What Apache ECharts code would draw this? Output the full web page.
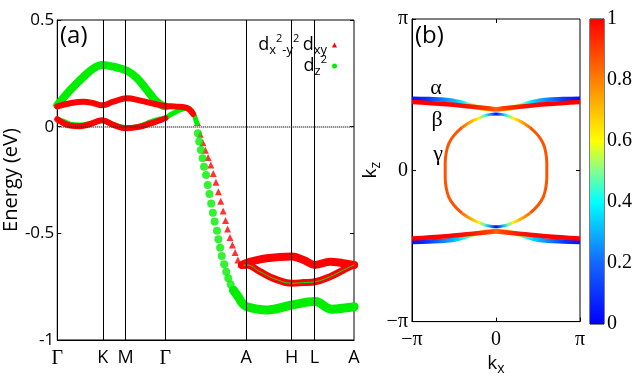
<!DOCTYPE html>
<html>
<head>
<meta charset="utf-8">
<script src="https://cdn.jsdelivr.net/npm/echarts@6/dist/echarts.min.js"></script>
<style>
  html, body { margin: 0; padding: 0; background: #fff; }
  #chart { width: 644px; height: 381px; }
</style>
</head>
<body>
<div id="chart"></div>
<script>
// ---- panel (a): bands along the high-symmetry path ----
const kPoints = [0, 1.333, 2.0, 3.155, 5.521, 6.854, 7.521, 8.676];
const kLabels = ['Γ', 'K', 'M', 'Γ', 'A', 'H', 'L', 'A'];

// green upper band (Γ-K-M-Γ)
const g1K = [0, 0.38, 0.77, 1.06, 1.31, 1.65, 2.04, 2.33, 2.62, 2.86, 3.06, 3.16];
const g1E = [0.10, 0.172, 0.234, 0.273, 0.289, 0.281, 0.262, 0.227, 0.172, 0.125, 0.10, 0.095];
// green lower band + hump before Γ-A drop
const g2K = [0, 0.18, 0.38, 0.67, 0.96, 1.31, 1.64, 2.04, 2.33, 2.57, 2.72, 3.01, 3.16, 3.30, 3.59, 3.79, 3.97, 4.08];
const g2E = [0.035, 0.025, 0.012, 0.008, 0.015, 0.028, 0.01, -0.005, 0.0, 0.012, 0.022, 0.036, 0.04, 0.055, 0.078, 0.086, 0.064, 0.016];
// green dots dropping along Γ-A
const gdK = [4.11, 4.15, 4.20, 4.25, 4.29, 4.35, 4.40, 4.45, 4.50, 4.55, 4.60, 4.67, 4.71, 4.76, 4.81, 4.88, 4.94, 5.00, 5.07, 5.15];
const gdE = [-0.031, -0.07, -0.109, -0.148, -0.188, -0.227, -0.273, -0.316, -0.36, -0.403, -0.445, -0.488, -0.528, -0.567, -0.606, -0.645, -0.68, -0.711, -0.74, -0.766];
// green bottom band (A-H-L-A)
const g3K = [5.15, 5.30, 5.40, 5.54, 6.13, 6.86, 7.54, 8.03, 8.40, 8.68];
const g3E = [-0.766, -0.80, -0.825, -0.844, -0.859, -0.836, -0.82, -0.856, -0.85, -0.844];

// red upper band (Γ-K-M-Γ and on to the drop)
const r1K = [0, 0.38, 0.77, 1.06, 1.31, 1.64, 2.04, 2.43, 2.86, 3.16, 3.50, 3.79, 3.97];
const r1E = [0.095, 0.11, 0.117, 0.11, 0.10, 0.117, 0.133, 0.122, 0.106, 0.097, 0.094, 0.088, 0.06];
// red lower band (Γ-K-M-Γ)
const r2K = [0, 0.38, 0.67, 0.96, 1.31, 1.64, 2.0, 2.43, 2.72, 3.01, 3.16];
const r2E = [0.035, 0.005, 0.002, 0.012, 0.03, 0.008, -0.008, 0.0, 0.015, 0.03, 0.04];
// red triangles dropping along Γ-A
const rtK = [4.10, 4.18, 4.26, 4.33, 4.41, 4.49, 4.56, 4.64, 4.71, 4.78, 4.85, 4.92, 4.98, 5.05, 5.12, 5.20, 5.28, 5.37, 5.45];
const rtE = [0.02, -0.035, -0.075, -0.11, -0.145, -0.18, -0.22, -0.26, -0.305, -0.35, -0.395, -0.44, -0.48, -0.52, -0.555, -0.59, -0.625, -0.645, -0.65];
// red bands A-H-L-A
const r3K = [5.40, 5.54, 6.13, 6.86, 7.20, 7.54, 7.98, 8.36, 8.68];
const r3E = [-0.648, -0.638, -0.617, -0.609, -0.625, -0.648, -0.633, -0.64, -0.648];
const r4K = [5.45, 5.54, 5.93, 6.32, 6.86, 7.20, 7.54, 7.98, 8.36, 8.68];
const r4E = [-0.65, -0.648, -0.68, -0.711, -0.734, -0.731, -0.727, -0.703, -0.672, -0.648];

// ---- panel (b): Fermi surface in kx-kz plane, weight 0..1 ----
const alphaKx = [-3.14, -2.5, -1.84, -1.4, -1.10, -0.75, -0.47, 0, 0.47, 0.75, 1.10, 1.4, 1.84, 2.5, 3.14];
const alphaKzTop = [1.487, 1.478, 1.459, 1.42, 1.37, 1.32, 1.281, 1.267, 1.281, 1.32, 1.37, 1.42, 1.459, 1.478, 1.487];
const alphaKzBot = [-1.487, -1.478, -1.459, -1.42, -1.37, -1.32, -1.281, -1.267, -1.281, -1.32, -1.37, -1.42, -1.459, -1.478, -1.487];
const alphaW = [0.02, 0.1, 0.25, 0.33, 0.42, 0.58, 0.68, 0.82, 0.68, 0.58, 0.42, 0.33, 0.25, 0.1, 0.02];

const betaKx = [-3.14, -1.84, -0.97, -0.22, 0, 0.22, 0.97, 1.84, 3.14];
const betaKzTop = [1.417, 1.37, 1.323, 1.281, 1.267, 1.281, 1.323, 1.37, 1.417];
const betaKzBot = [-1.417, -1.37, -1.323, -1.281, -1.267, -1.281, -1.323, -1.37, -1.417];
const betaW = [1, 1, 0.97, 0.9, 0.85, 0.9, 0.97, 1, 1];

// γ pocket: caps (near kx = 0) and sides
const capKx = [-1.27, -0.90, -0.60, -0.40, -0.15, 0, 0.15, 0.40, 0.60, 0.90, 1.27];
const capKzTop = [0.89, 1.02, 1.09, 1.14, 1.165, 1.17, 1.165, 1.14, 1.09, 1.02, 0.89];
const capKzBot = [-0.89, -1.02, -1.09, -1.14, -1.165, -1.17, -1.165, -1.14, -1.09, -1.02, -0.89];
const capW = [0.86, 0.74, 0.62, 0.46, 0.22, 0.0, 0.22, 0.46, 0.62, 0.74, 0.86];
const sideKx = [1.27, 1.58, 1.77, 1.86, 1.90, 1.90, 1.86, 1.77, 1.58, 1.27];
const sideKz = [0.89, 0.72, 0.55, 0.37, 0.15, -0.15, -0.37, -0.55, -0.72, -0.89];
const sideW = 0.87;

const cbTicks = [0, 0.2, 0.4, 0.6, 0.8, 1];
const cbColors = [[0, '#0000ff'], [0.2, '#1466ff'], [0.4, '#00ffff'], [0.5, '#80ff90'], [0.6, '#ffff00'], [0.8, '#ff8000'], [1, '#ff0000']];

function hex2rgb(h) {
  return [parseInt(h.substr(1, 2), 16), parseInt(h.substr(3, 2), 16), parseInt(h.substr(5, 2), 16)];
}
function cmap(v) {
  v = Math.max(0, Math.min(1, v));
  for (let i = 1; i < cbColors.length; i++) {
    if (v <= cbColors[i][0]) {
      const a = cbColors[i - 1], b = cbColors[i];
      const t = (v - a[0]) / (b[0] - a[0]);
      const ca = hex2rgb(a[1]), cb = hex2rgb(b[1]);
      const c = ca.map((x, j) => Math.round(x + (cb[j] - x) * t));
      return 'rgb(' + c.join(',') + ')';
    }
  }
  return cbColors[cbColors.length - 1][1];
}
function zip(a, b) { return a.map((x, i) => [x, b[i]]); }
function neg(a) { return a.map(x => -x); }

function hGrad(xs, ws) {
  const lo = xs[0], hi = xs[xs.length - 1];
  return new echarts.graphic.LinearGradient(0, 0, 1, 0,
    xs.map((x, i) => ({ offset: (x - lo) / (hi - lo), color: cmap(ws[i]) })));
}

const RED = '#ff0000';
const GREEN = '#00ee00';
const sans = 'Open Sans';
const serif = 'Liberation Serif';

function band(name, k, e, color, width) {
  return {
    name: name, type: 'line', xAxisIndex: 0, yAxisIndex: 0,
    data: zip(k, e), smooth: 0.4, symbol: 'none',
    lineStyle: { color: color, width: width, cap: 'round' },
    itemStyle: { color: color }
  };
}
function fsLine(xs, zs, color, width) {
  return {
    type: 'line', xAxisIndex: 2, yAxisIndex: 2,
    data: zip(xs, zs), smooth: 0.4, symbol: 'none',
    lineStyle: { color: color, width: width, cap: 'butt' }
  };
}
const piLabel = v => (Math.abs(v) < 1e-6 ? '0' : (v < 0 ? '−π' : 'π'));
const subName = (a, b) => ({
  rich: {
    k: { fontFamily: sans, fontSize: 19, color: '#000' },
    s: { fontFamily: sans, fontSize: 14, color: '#000', padding: [10, 0, 0, 0] }
  }
});

const chart = echarts.init(document.getElementById('chart'));

const option = {
  animation: false,
  backgroundColor: '#fff',
  grid: [
    { left: 57, right: 290, top: 20, bottom: 41, show: true, borderColor: '#000', borderWidth: 1 },
    { left: 412, right: 64, top: 19, bottom: 57, show: true, borderColor: '#000', borderWidth: 1 },
    { left: 590, right: 40, top: 19, bottom: 57, show: true, borderColor: '#000', borderWidth: 1 }
  ],
  xAxis: [
    {
      gridIndex: 0, type: 'value', min: 0, max: kPoints[kPoints.length - 1],
      axisLine: { onZero: false, lineStyle: { color: '#000' } },
      axisTick: { show: false },
      splitLine: { show: false },
      axisLabel: {
        customValues: kPoints, margin: 9, color: '#000',
        formatter: function (v) {
          let idx = 0;
          kPoints.forEach((p, i) => { if (Math.abs(p - v) < Math.abs(kPoints[idx] - v)) idx = i; });
          return kLabels[idx] === 'Γ' ? '{g|Γ}' : '{s|' + kLabels[idx] + '}';
        },
        rich: {
          g: { fontFamily: serif, fontSize: 20, color: '#000' },
          s: { fontFamily: sans, fontSize: 18, color: '#000' }
        }
      }
    },
    { gridIndex: 0, type: 'value', position: 'top', min: 0, max: kPoints[kPoints.length - 1],
      axisLine: { show: false, onZero: false }, axisTick: { show: false }, axisLabel: { show: false }, splitLine: { show: false } },
    {
      gridIndex: 1, type: 'value', min: -Math.PI, max: Math.PI, interval: Math.PI,
      name: '{k|k}{s|x}', nameLocation: 'middle', nameGap: 24,
      nameTextStyle: subName(),
      axisLine: { onZero: false, lineStyle: { color: '#000' } },
      axisTick: { inside: true, length: 4, lineStyle: { color: '#000' } },
      splitLine: { show: false },
      axisLabel: { customValues: [-Math.PI, 0, Math.PI], margin: 8, color: '#000', fontFamily: serif, fontSize: 20, formatter: piLabel }
    },
    { gridIndex: 1, type: 'value', position: 'top', min: -Math.PI, max: Math.PI, interval: Math.PI,
      axisLine: { show: false, onZero: false }, axisLabel: { show: false }, splitLine: { show: false },
      axisTick: { inside: true, length: 4, customValues: [0], lineStyle: { color: '#000' } } },
    { gridIndex: 2, type: 'category', data: ['c'], show: false }
  ],
  yAxis: [
    {
      gridIndex: 0, type: 'value', min: -1, max: 0.5, interval: 0.5,
      name: 'Energy (eV)', nameLocation: 'middle', nameGap: 31,
      nameTextStyle: { fontFamily: sans, fontSize: 20, color: '#000' },
      axisLine: { onZero: false, lineStyle: { color: '#000' } },
      axisTick: { inside: true, length: 4, lineStyle: { color: '#000' } },
      splitLine: { show: false },
      axisLabel: { margin: 3, color: '#000', fontFamily: sans, fontSize: 17 }
    },
    { gridIndex: 0, type: 'value', position: 'right', min: -1, max: 0.5, interval: 0.5,
      axisLine: { show: false, onZero: false }, axisLabel: { show: false }, splitLine: { show: false },
      axisTick: { inside: true, length: 4, lineStyle: { color: '#000' } } },
    {
      gridIndex: 1, type: 'value', min: -Math.PI, max: Math.PI, interval: Math.PI,
      name: '{k|k}{s|z}', nameLocation: 'middle', nameGap: 26,
      nameTextStyle: subName(),
      axisLine: { onZero: false, lineStyle: { color: '#000' } },
      axisTick: { inside: true, length: 4, lineStyle: { color: '#000' } },
      splitLine: { show: false },
      axisLabel: { customValues: [-Math.PI, 0, Math.PI], margin: 4, color: '#000', fontFamily: serif, fontSize: 20, formatter: piLabel }
    },
    { gridIndex: 1, type: 'value', position: 'right', min: -Math.PI, max: Math.PI, interval: Math.PI,
      axisLine: { show: false, onZero: false }, axisLabel: { show: false }, splitLine: { show: false },
      axisTick: { inside: true, length: 4, customValues: [0], lineStyle: { color: '#000' } } },
    {
      gridIndex: 2, type: 'value', position: 'right', min: 0, max: 1, interval: 0.2,
      axisLine: { show: false, onZero: false }, splitLine: { show: false },
      axisTick: { inside: true, length: 3, lineStyle: { color: '#000' } },
      axisLabel: { margin: 3, color: '#000', fontFamily: serif, fontSize: 20,
        customValues: cbTicks, formatter: v => String(+v.toFixed(1)) }
    }
  ],
  legend: {
    orient: 'vertical', right: 302, top: 28, align: 'right',
    itemWidth: 5, itemHeight: 5, itemGap: -3,
    data: [{ name: 'dxy', icon: 'triangle' }, { name: 'dz2', icon: 'circle' }],
    formatter: function (name) {
      return name === 'dxy'
        ? '{d|d}{sub|x}{sup|2}{sub|-y}{sup|2} {d|d}{sub|xy}'
        : '{d|d}{sub|z}{sup|2}';
    },
    textStyle: {
      rich: {
        d: { fontFamily: sans, fontSize: 18, lineHeight: 24, color: '#000' },
        sub: { fontFamily: sans, fontSize: 13, lineHeight: 13, verticalAlign: 'bottom', color: '#000' },
        sup: { fontFamily: sans, fontSize: 11, lineHeight: 11, verticalAlign: 'top', color: '#000' }
      }
    }
  },
  graphic: [
    { type: 'text', left: 60, top: 24, style: { text: '(a)', font: '24px "Open Sans"', fill: '#000' } },
    { type: 'text', left: 415, top: 24, style: { text: '(b)', font: '24px "Open Sans"', fill: '#000' } },
    { type: 'text', x: 436, y: 88, style: { text: 'α', font: '22px "Liberation Serif"', fill: '#000', align: 'center', verticalAlign: 'middle' } },
    { type: 'text', x: 437, y: 120, style: { text: 'β', font: '22px "Liberation Serif"', fill: '#000', align: 'center', verticalAlign: 'middle' } },
    { type: 'text', x: 438, y: 154, style: { text: 'γ', font: '22px "Liberation Serif"', fill: '#000', align: 'center', verticalAlign: 'middle' } }
  ],
  series: [
    band('dz2', g1K, g1E, GREEN, 8),
    band('dz2', g2K, g2E, GREEN, 5),
    band('dz2', g3K, g3E, GREEN, 9),
    band('dxy', r1K, r1E, RED, 6),
    band('dxy', r2K, r2E, RED, 6),
    band('dxy', r3K, r3E, RED, 8),
    band('dxy', r4K, r4E, RED, 7),
    {
      name: 'dxy', type: 'scatter', xAxisIndex: 0, yAxisIndex: 0,
      data: zip(rtK, rtE), symbol: 'triangle', symbolSize: 7,
      itemStyle: { color: RED }
    },
    {
      name: 'dz2', type: 'scatter', xAxisIndex: 0, yAxisIndex: 0,
      data: zip(gdK, gdE), symbol: 'circle', symbolSize: 8,
      itemStyle: { color: GREEN }
    },
    Object.assign(band('dz2', r4K, r4E, GREEN, 1), {
      markLine: {
        silent: true, symbol: 'none', label: { show: false },
        data: kPoints.slice(1, kPoints.length - 1).map(k => ({ xAxis: k, lineStyle: { color: '#000', width: 1, type: 'solid' } }))
          .concat([{ yAxis: 0, lineStyle: { color: '#333', width: 1.5, type: [1, 1] } }])
      }
    }),
    // panel (b)
    fsLine(alphaKx, alphaKzTop, hGrad(alphaKx, alphaW), 4.5),
    fsLine(alphaKx, alphaKzBot, hGrad(alphaKx, alphaW), 4.5),
    fsLine(betaKx, betaKzTop, hGrad(betaKx, betaW), 4.5),
    fsLine(betaKx, betaKzBot, hGrad(betaKx, betaW), 4.5),
    fsLine(sideKx, sideKz, cmap(sideW), 3),
    fsLine(neg(sideKx), sideKz, cmap(sideW), 3),
    fsLine(capKx, capKzTop, hGrad(capKx, capW), 3),
    fsLine(capKx, capKzBot, hGrad(capKx, capW), 3),
    // colour bar
    {
      type: 'bar', xAxisIndex: 4, yAxisIndex: 4, data: [1], barWidth: '100%',
      itemStyle: { color: new echarts.graphic.LinearGradient(0, 1, 0, 0, cbColors.map(c => ({ offset: c[0], color: c[1] }))) }
    }
  ]
};

chart.setOption(option);
</script>
</body>
</html>
